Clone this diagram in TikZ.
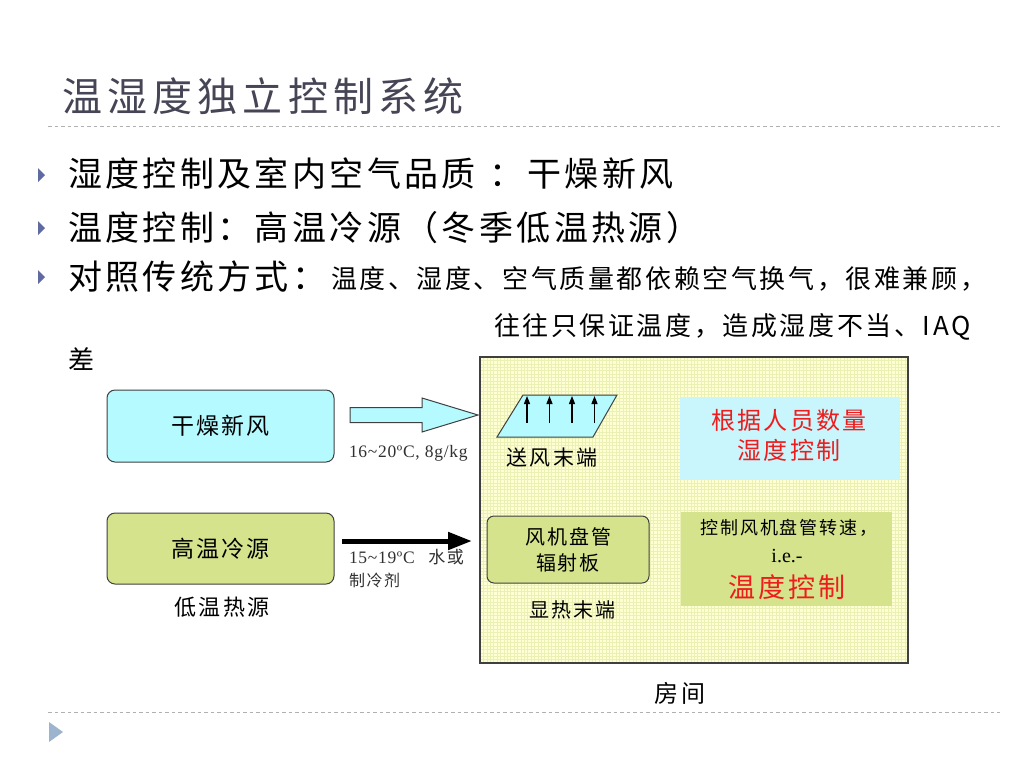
\documentclass[tikz,border=0pt]{standalone}
\usepackage{fontspec}
\setmainfont{Liberation Serif}
\newfontfamily\serifls[LetterSpace=4]{Liberation Serif}
\newfontfamily\cjk[LetterSpace=10]{Noto Sans CJK SC}
\newfontfamily\cjktitle[LetterSpace=13]{Noto Sans CJK SC}
\usetikzlibrary{arrows.meta}
\definecolor{cyanfill}{HTML}{B4FAFF}
\definecolor{cyanpale}{HTML}{C8F6FC}
\definecolor{olivefill}{HTML}{D5E38C}
\definecolor{roomfill}{HTML}{FFFFD4}
\definecolor{gridc}{HTML}{EBF0B4}
\definecolor{titlec}{HTML}{454555}
\definecolor{bulletc}{HTML}{5F6AA3}
\definecolor{rulec}{HTML}{B0B0B0}
\definecolor{redtext}{HTML}{EE1C1C}
\definecolor{edgec}{HTML}{404040}
\definecolor{labelc}{HTML}{303030}
\definecolor{navc}{HTML}{9DB4CF}
\newcommand{\fsz}[1]{\fontsize{#1}{1.25\dimexpr #1pt\relax}\selectfont}
\begin{document}
\begin{tikzpicture}[x=1pt,y=-1pt,
  txt/.style={inner sep=0pt, outer sep=0pt},
  boxstyle/.style={draw=edgec, line width=1pt, rounded corners=8pt, inner sep=0pt},
  bulletmark/.style={fill=bulletc, draw=none},
  rulestyle/.style={rulec, line width=0.8pt, dash pattern=on 3.5pt off 3pt},
  upar/.style={line width=1.2pt, -{Triangle[length=8pt,width=6pt]}},
]
\useasboundingbox[fill=white] (0,0) rectangle (1024,769);

% title
\node[txt, anchor=west, text=titlec, font=\cjktitle\fsz{40}] (title) at (62,96) {温湿度独立控制系统};
\coordinate (r1a) at (48,126);
\coordinate (r1b) at (1000,126);
\draw[rulestyle] (r1a) -- (r1b);

% bullets
\foreach \yy/\nm in {175/b1,228/b2,277/b3}{
  \fill[bulletmark] (38,\yy-7) -- (45,\yy) -- (38,\yy+7) -- cycle;
}
\node[txt, anchor=west, font=\cjk\fsz{34}] (l1) at (68,173) {湿度控制及室内空气品质\hspace{14pt}：干燥新风};
\node[txt, anchor=west, font=\cjk\fsz{34}] (l2) at (68,228) {温度控制：高温冷源（冬季低温热源）};
\node[txt, anchor=west, font=\cjk\fsz{34}] (l3) at (68,277) {对照传统方式：};
\node[txt, anchor=west, font=\cjk\fsz{26}] (l3b) at (331,279) {温度、湿度、空气质量都依赖空气换气，很难兼顾，};
\node[txt, anchor=west, font=\cjk\fsz{26}] (l4) at (494,327) {往往只保证温度，造成湿度不当、IAQ};
\node[txt, anchor=west, font=\cjk\fsz{26}] (l5) at (68,359) {差};

% room
\node[txt, anchor=north west, fill=roomfill, minimum width=428pt, minimum height=306pt] (room) at (480,357) {};
\begin{scope}
  \clip (room.north west) rectangle (room.south east);
  \foreach \i in {0,...,126}{
    \draw[gridc, line width=0.5pt] (480+3.4*\i,357) -- (480+3.4*\i,663);
  }
  \foreach \i in {0,...,90}{
    \draw[gridc, line width=0.5pt] (480,357+3.4*\i) -- (908,357+3.4*\i);
  }
\end{scope}
\draw[edgec, line width=1.6pt] (room.north west) rectangle (room.south east);
\node[txt, font=\cjk\fsz{24}] (roomlabel) at (680,693) {房间};

% sources
\node[boxstyle, fill=cyanfill, minimum width=227pt, minimum height=72pt, font=\cjk\fsz{23}] (fresh) at (220.5,426) {干燥新风};
\node[boxstyle, fill=olivefill, minimum width=227pt, minimum height=71pt, font=\cjk\fsz{23}] (hsrc) at (220.5,548.5) {高温冷源};
\node[txt, font=\cjk\fsz{22}] (lsrc) at (222,607) {低温热源};

% block arrow (fresh air)
\coordinate (faS) at (350,415);
\coordinate (faT) at (478,415);
\draw[edgec, fill=cyanfill, line width=1pt, line join=miter]
  ([yshift=7.5pt]faS) -- ++(72,0) -- ++(0,-9.5) -- (faT) -- ++(-56,17) -- ++(0,-9.5) -- ++(-72,0) -- cycle;
\node[txt, anchor=west, text=labelc, font=\serifls\fsz{17.5}] (falabel) at (349,453) {16\textasciitilde20ºC, 8g/kg};

% black arrow (water)
\coordinate (waS) at (342,541);
\coordinate (waT) at (472,541);
\draw[line width=5pt, -{Triangle[length=24pt,width=17pt]}] (waS) -- (waT);
\node[txt, anchor=west, text=labelc, font=\serifls\fsz{17.5}] (walabel) at (349,557) {15\textasciitilde19ºC\hspace{8pt}{\cjk\fsz{17} 水或}};
\node[txt, anchor=west, text=labelc, font=\cjk\fsz{16}] (walabel2) at (349,580) {制冷剂};

% supply terminal parallelogram
\coordinate (pa) at (497,437);
\coordinate (pb) at (523,395);
\coordinate (pc) at (617,395);
\coordinate (pd) at (593,437);
\draw[edgec, fill=cyanfill, line width=1pt] (pa) -- (pb) -- (pc) -- (pd) -- cycle;
\foreach \xx in {527,549.5,572,594.5}{
  \draw[upar] (\xx,423) -- (\xx,396);
}
\node[txt, font=\cjk\fsz{21}] (supply) at (552,458) {送风末端};

% humidity control box
\node[txt, fill=cyanpale, minimum width=220pt, minimum height=83pt] (humid) at (790,438.5) {};
\node[txt, text=redtext, align=center, font=\cjk\fontsize{24}{30}\selectfont] (humidtxt) at (789,435) {根据人员数量\\湿度控制};

% fan coil box
\node[boxstyle, rounded corners=7pt, fill=olivefill, minimum width=162pt, minimum height=67pt, align=center, font=\cjk\fontsize{20}{26}\selectfont] (fcu) at (568,549.5) {风机盘管\\辐射板};
\node[txt, font=\cjk\fsz{20}] (sensible) at (572,610) {显热末端};

% temperature control box
\node[txt, fill=olivefill, minimum width=211pt, minimum height=94pt] (tctl) at (786.5,559) {};
\node[txt, font=\cjk\fsz{18}] (tc1) at (789,528) {控制风机盘管转速，};
\node[txt, font=\fsz{20}] (tc2) at (787,556) {i.e.-};
\node[txt, text=redtext, font=\cjk\fsz{27}] (tc3) at (787,587) {温度控制};

% footer
\coordinate (r2a) at (48,712);
\coordinate (r2b) at (1000,712);
\draw[rulestyle] (r2a) -- (r2b);
\fill[navc] (49,722) -- (63,732) -- (49,742) -- cycle;
\end{tikzpicture}
\end{document}
